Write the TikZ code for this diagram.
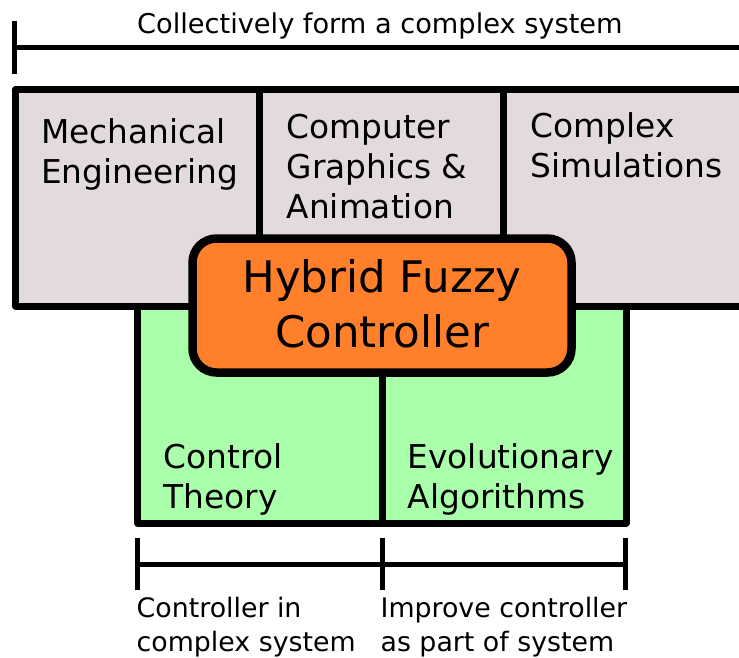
\documentclass[tikz,border=0pt]{standalone}
\usepackage{fontspec}
\setmainfont{DejaVu Sans}
\definecolor{panelgray}{HTML}{E3DBDB}
\definecolor{panelgreen}{HTML}{AAFFAA}
\definecolor{coreorange}{HTML}{FF7F2A}
\begin{document}
\begin{tikzpicture}[x=1pt, y=-1pt, line join=round,
  frame/.style={draw=black, line width=7pt},
  corebox/.style={draw=black, line width=8.5pt, fill=coreorange, rounded corners=24pt},
  bar/.style={draw=black, line width=5pt},
  % multi-line labels: the base anchor sits on the last line's baseline
  label/.style={inner sep=0pt, anchor=base west, align=left},
  fieldtext/.style={label, font=\fontsize{32.8}{40}\selectfont},
  notetext/.style={label, font=\fontsize{26.8}{34}\selectfont},
]
\useasboundingbox (0,0) rectangle (739,657);
\clip (0,0) rectangle (739,657);

% bracket spanning the whole system
\coordinate (sysL) at (14.5,47.5);
\coordinate (sysR) at (760,47.5);
\draw[bar] (14.5,21) -- (14.5,74);
\draw[bar] (sysL) -- (sysR);
\node[label, font=\fontsize{27.2}{33}\selectfont] (systitle) at (137,33.3)
  {Collectively form a complex system};

% application fields (grey band, running off the right edge)
\filldraw[frame, fill=panelgray] (15.5,89) rectangle (800,306);
\draw[frame] (259.5,89) -- (259.5,306);
\draw[frame] (503.5,89) -- (503.5,306);
\node[fieldtext] (mech) at (41,183) {Mechanical\\Engineering};
\node[fieldtext] (cga)  at (286.5,218.5) {Computer\\Graphics \&\\Animation};
\node[fieldtext] (sim)  at (530.5,177) {Complex\\Simulations};

% methods (green band)
\filldraw[frame, fill=panelgreen] (137.5,306) rectangle (626,523);
\draw[frame] (382,306) -- (382,523);
\node[fieldtext] (ctrl) at (163.5,508) {Control\\Theory};
\node[fieldtext] (evo)  at (407.5,508) {Evolutionary\\Algorithms};

% the controller in the middle
\filldraw[corebox] (192.5,238.5) rectangle (571.5,372.5);
\node[inner sep=0pt, anchor=base, align=center,
      font=\fontsize{43.5}{55}\selectfont] (hfc) at (382,347)
  {Hybrid Fuzzy\\Controller};

% lower brackets
\coordinate (bL) at (137.5,564);
\coordinate (bM) at (382,564);
\coordinate (bR) at (625.5,564);
\draw[bar] (137.5,538) -- (137.5,590);
\draw[bar] (382,538) -- (382,590);
\draw[bar] (625.5,538) -- (625.5,590);
\draw[bar] (bL) -- (bM) -- (bR);
\node[notetext] (noteL) at (136.5,651) {Controller in\\complex system};
\node[notetext] (noteR) at (380.4,651) {Improve controller\\as part of system};
\end{tikzpicture}
\end{document}
